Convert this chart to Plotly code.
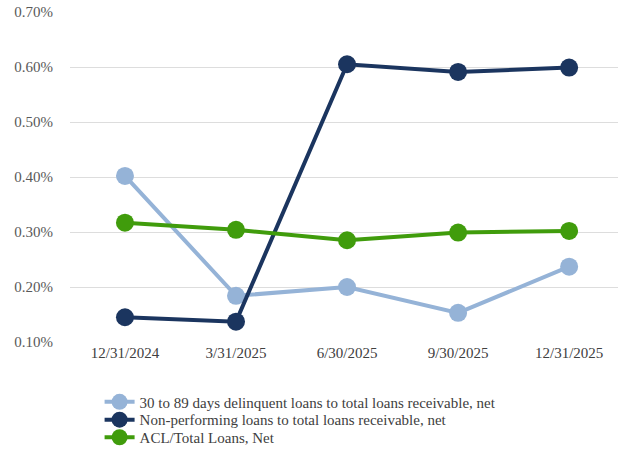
import plotly.graph_objects as go

categories = ["12/31/2024", "3/31/2025", "6/30/2025", "9/30/2025", "12/31/2025"]
delinquent = [0.402, 0.184, 0.200, 0.153, 0.237]
nonperforming = [0.145, 0.137, 0.605, 0.591, 0.599]
acl = [0.317, 0.304, 0.285, 0.299, 0.302]
series_names = [
    "30 to 89 days delinquent loans to total loans receivable, net",
    "Non-performing loans to total loans receivable, net",
    "ACL/Total Loans, Net",
]
y_ticks = [0.10, 0.20, 0.30, 0.40, 0.50, 0.60, 0.70]
y_tick_labels = ["0.10%", "0.20%", "0.30%", "0.40%", "0.50%", "0.60%", "0.70%"]

colors = ["#95B3D7", "#1B355F", "#409C0C"]
font = "serif"

legend_ids = ["legend", "legend2", "legend3"]
legend_y = [-0.182, -0.236, -0.291]

fig = go.Figure()
for name, vals, col, lid in zip(series_names, [delinquent, nonperforming, acl], colors, legend_ids):
    fig.add_trace(go.Scatter(
        x=categories, y=vals, name=name, mode="lines+markers",
        line=dict(color=col, width=4),
        marker=dict(color=col, size=18),
        legend=lid,
    ))

layout_legends = {}
for lid, ly in zip(legend_ids, legend_y):
    layout_legends[lid] = dict(
        orientation="v", x=0.054, xanchor="left", yanchor="middle", y=ly,
        font=dict(family=font, size=15, color="#404040"),
        itemwidth=30, bgcolor="rgba(0,0,0,0)", borderwidth=0,
    )

fig.update_layout(
    width=618, height=454,
    margin=dict(l=70, r=0, t=12, b=112),
    paper_bgcolor="white", plot_bgcolor="white",
    font=dict(family=font, size=14, color="#595959"),
    showlegend=True,
    **layout_legends,
)
fig.update_xaxes(
    type="category", range=[-0.495, 4.44], showgrid=False, zeroline=False,
    showline=False, ticks="", automargin=False,
    tickfont=dict(family=font, size=15, color="#404040"),
)
fig.update_yaxes(
    range=[0.1, 0.7], tickvals=y_ticks, ticktext=y_tick_labels,
    showgrid=True, gridcolor="#DDDDDD", gridwidth=1, zeroline=False,
    showline=False, ticklabelstandoff=16, automargin=False,
    tickfont=dict(family=font, size=15, color="#595959"),
)

fig.write_html(
    "out.html",
    config={"displayModeBar": False},
    post_script="document.body.style.margin='0';",
)
